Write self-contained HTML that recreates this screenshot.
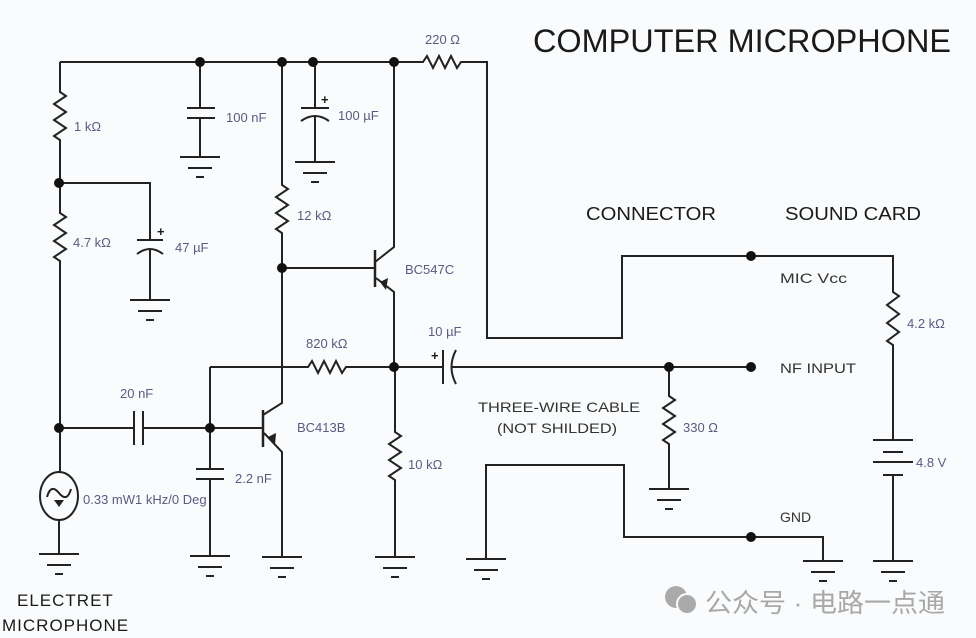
<!DOCTYPE html>
<html><head><meta charset="utf-8"><style>
html,body{margin:0;padding:0;background:#fafbfc;}
svg{display:block}
.w{stroke:#222;stroke-width:2;fill:none}
.l{font-family:"Liberation Sans",sans-serif;font-size:13px;fill:#5a5a85}
.h{font-family:"Liberation Sans",sans-serif;fill:#1a1a1a}
</style></head><body>
<svg width="976" height="638" viewBox="0 0 976 638" xmlns="http://www.w3.org/2000/svg">
<defs>
<g id="gnd"><line class="w" x1="-20" y1="0" x2="20" y2="0"/><line class="w" x1="-12" y1="11" x2="12" y2="11"/><line class="w" x1="-4" y1="20" x2="4" y2="20"/></g>
</defs>
<g class="w">
<path d="M60 62H423 l4 -6 l6 12 l6 -12 l6 12 l6 -12 l6 12 l4 -6 H487 V338 H622 V256 H893 V292 l6 4 l-12 9 l12 9 l-12 9 l12 9 l-12 9 l6 4 V440"/>
<line x1="873" y1="440" x2="913" y2="440"/><line x1="883" y1="452" x2="903" y2="452"/>
<line x1="873" y1="462" x2="913" y2="462"/><line x1="883" y1="475" x2="903" y2="475"/>
<path d="M893 475V561"/>
<path d="M60 62V92 l6 4 l-12 8 l12 8 l-12 8 l12 8 l-12 8 l6 4 V213 l6 4 l-12 8 l12 8 l-12 8 l12 8 l-12 8 l6 4 V472"/>
<ellipse cx="59" cy="496" rx="19" ry="24"/>
<path d="M47 497 q4 -14 12 -4 q8 10 12 -4"/>
<path d="M59 520V554"/>
<path d="M60 183H150V240"/><line x1="137" y1="240" x2="163" y2="240"/><path d="M137 254 q13 -10 26 0"/><path d="M150 250V300"/>
<path d="M200 62V108"/><line x1="187" y1="108" x2="215" y2="108"/><line x1="187" y1="118" x2="215" y2="118"/><path d="M200 118V157"/>
<path d="M315 62V108"/><line x1="301" y1="108" x2="329" y2="108"/><path d="M301 121 q14 -10 28 0"/><path d="M315 117V162"/>
<path d="M282 62V185 l6 4 l-12 8 l12 8 l-12 8 l12 8 l-12 8 l6 4 V403 L263 415"/>
<path d="M282 268H375"/>
<line x1="375" y1="250" x2="375" y2="287" style="stroke-width:2.5"/>
<path d="M375 262 L394 247 V62"/>
<path d="M376 278 L394 292 V367"/>
<line x1="263" y1="410" x2="263" y2="447" style="stroke-width:2.5"/>
<path d="M264 433 L282 452 V557"/>
<path d="M60 428H133"/><line x1="134" y1="411" x2="134" y2="445"/><line x1="143" y1="411" x2="143" y2="445"/><path d="M143 428H263"/>
<path d="M210 367V469"/><line x1="196" y1="469" x2="224" y2="469"/><line x1="196" y1="479" x2="224" y2="479"/><path d="M210 479V556"/>
<path d="M210 367H308 l4 -6 l6 12 l6 -12 l6 12 l6 -12 l6 12 l4 -6 H395"/>
<path d="M395 367V432 l6 4 l-12 8 l12 8 l-12 8 l12 8 l-12 8 l6 4 V557"/>
<path d="M395 367H443"/><line x1="443" y1="350" x2="443" y2="384"/><path d="M456 350 q-9 17 0 34"/><path d="M451 367H750"/>
<path d="M669 367V396 l6 4 l-12 8 l12 8 l-12 8 l12 8 l-12 8 l6 4 V489"/>
<path d="M486 559V465H624V537H823V561"/>
</g>
<polygon points="380,282 388,278 386,290" fill="#222"/>
<polygon points="268,437 276,433 275,445" fill="#222"/>
<polygon points="54,500 64,500 59,507" fill="#222"/>
<use href="#gnd" x="200" y="157"/><use href="#gnd" x="315" y="162"/><use href="#gnd" x="150" y="300"/>
<use href="#gnd" x="59" y="554"/><use href="#gnd" x="210" y="556"/><use href="#gnd" x="282" y="557"/>
<use href="#gnd" x="395" y="557"/><use href="#gnd" x="486" y="559"/><use href="#gnd" x="669" y="489"/>
<use href="#gnd" x="823" y="561"/><use href="#gnd" x="893" y="561"/>
<g fill="#111">
<circle cx="200" cy="62" r="5"/><circle cx="282" cy="62" r="5"/><circle cx="313" cy="62" r="5"/><circle cx="394" cy="62" r="5"/>
<circle cx="59" cy="183" r="5"/><circle cx="282" cy="268" r="5"/><circle cx="59" cy="428" r="5"/><circle cx="210" cy="428" r="5"/>
<circle cx="394" cy="367" r="5"/><circle cx="669" cy="367" r="5"/><circle cx="751" cy="367" r="5"/><circle cx="751" cy="256" r="5"/><circle cx="751" cy="537" r="5"/>
</g>
<g class="h" style="font-size:13px;font-weight:bold"><text x="157" y="236">+</text><text x="321" y="104">+</text><text x="431" y="360">+</text></g>
<g class="l">
<text x="425" y="44">220 Ω</text>
<text x="74" y="131">1 kΩ</text>
<text x="226" y="122">100 nF</text>
<text x="338" y="120">100 µF</text>
<text x="73" y="247">4.7 kΩ</text>
<text x="175" y="252">47 µF</text>
<text x="297" y="220">12 kΩ</text>
<text x="405" y="274">BC547C</text>
<text x="428" y="336">10 µF</text>
<text x="306" y="348">820 kΩ</text>
<text x="120" y="398">20 nF</text>
<text x="297" y="432">BC413B</text>
<text x="235" y="483">2.2 nF</text>
<text x="83" y="504">0.33 mW1 kHz/0 Deg</text>
<text x="408" y="469">10 kΩ</text>
<text x="683" y="432">330 Ω</text>
<text x="907" y="328">4.2 kΩ</text>
<text x="916" y="467">4.8 V</text>
</g>
<g class="h" style="font-size:14px;fill:#333">
<text x="780" y="283" textLength="67" lengthAdjust="spacingAndGlyphs">MIC Vcc</text>
<text x="780" y="373" textLength="76" lengthAdjust="spacingAndGlyphs">NF INPUT</text>
<text x="780" y="522">GND</text>
<text x="478" y="412" textLength="162" lengthAdjust="spacingAndGlyphs">THREE-WIRE CABLE</text>
<text x="497" y="433" textLength="120" lengthAdjust="spacingAndGlyphs">(NOT SHILDED)</text>
</g>
<g class="h" style="font-size:17px;letter-spacing:1px">
<text x="17" y="606">ELECTRET</text>
<text x="2" y="631">MICROPHONE</text>
</g>
<g class="h" style="font-size:18px">
<text x="586" y="220" textLength="130" lengthAdjust="spacingAndGlyphs">CONNECTOR</text>
<text x="785" y="220" textLength="136" lengthAdjust="spacingAndGlyphs">SOUND CARD</text>
</g>
<text class="h" x="533" y="52" style="font-size:32px" textLength="418" lengthAdjust="spacingAndGlyphs">COMPUTER MICROPHONE</text>
<g fill="#aaa"><circle cx="676" cy="597" r="11"/><circle cx="687" cy="604" r="10" stroke="#fafbfc" stroke-width="2"/></g>
<text x="705" y="612" textLength="240" lengthAdjust="spacingAndGlyphs" style="font-family:'Liberation Sans','Noto Sans CJK SC',sans-serif;font-size:26px;fill:#a8a8a8">公众号 · 电路一点通</text>
</svg>
</body></html>
